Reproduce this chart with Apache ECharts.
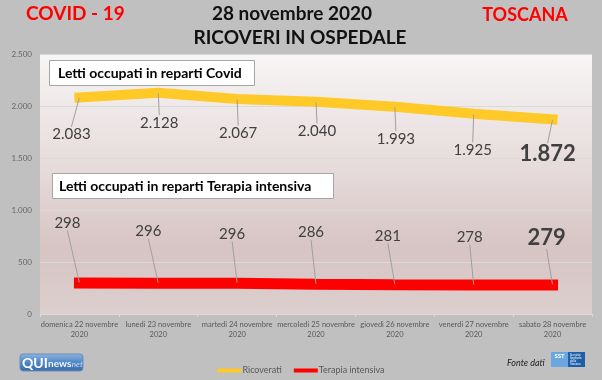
<!DOCTYPE html>
<html>
<head>
<meta charset="utf-8">
<script src="https://cdn.jsdelivr.net/npm/echarts@6/dist/echarts.min.js"></script>
<style>
html,body{margin:0;padding:0;background:#c0c0c0;}
#c{width:602px;height:380px;}
</style>
</head>
<body>
<div id="c"></div>
<script>
const categories = [
  'domenica 22 novembre\n2020',
  'lunedi 23 novembre\n2020',
  'martedi 24 novembre\n2020',
  'mercoledi 25 novembre\n2020',
  'giovedi 26 novembre\n2020',
  'venerdi 27 novembre\n2020',
  'sabato 28 novembre\n2020'
];
const ricoverati = [2083, 2128, 2067, 2040, 1993, 1925, 1872];
const terapiaIntensiva = [298, 296, 296, 286, 281, 278, 279];
const yTicks = [0, 500, 1000, 1500, 2000, 2500];

const fmt = v => String(v).replace(/\B(?=(\d{3})+(?!\d))/g, '.');

// label placement (pixel offsets from the point)
const yellowOffsets = [[-8,37],[1,30],[1,34],[1,29],[1,32],[-1,36],[-5,35]];
const redOffsets = [[-12,-60],[-10,-52],[-5,-49],[-5,-52],[-7,-49],[-4,-48],[-6,-47]];

function buildData(arr) {
  return arr.map((v, i) => {
    const last = i === arr.length - 1;
    return last ? {value: v, label: {fontSize: 22, fontWeight: 'bold'}} : {value: v};
  });
}

const FONT = 'Lato, "Open Sans", sans-serif';
const chart = echarts.init(document.getElementById('c'), null, {renderer: 'canvas'});

const labelBase = {
  show: true,
  position: 'inside',
  formatter: p => fmt(p.value),
  fontFamily: FONT,
  fontSize: 15,
  color: '#404040'
};

chart.setOption({
  backgroundColor: '#c0c0c0',
  animation: false,
  textStyle: {fontFamily: FONT},
  grid: {
    left: 40, right: 10, top: 54, bottom: 66,
    show: true,
    borderWidth: 0,
    backgroundColor: new echarts.graphic.LinearGradient(0, 0, 0, 1, [
      {offset: 0, color: '#f7f5f5'},
      {offset: 0.45, color: '#e6dada'},
      {offset: 0.75, color: '#d7c4c4'},
      {offset: 1, color: '#ddcfcf'}
    ])
  },
  xAxis: {
    type: 'category',
    data: categories,
    boundaryGap: true,
    axisLine: {lineStyle: {color: '#d9d9d9'}},
    axisTick: {show: true, length: 3, interval: 0, lineStyle: {color: '#d9d9d9'}},
    axisLabel: {
      interval: 0, fontSize: 7.5, color: '#595959', lineHeight: 10, margin: 6,
      fontFamily: FONT
    }
  },
  yAxis: {
    type: 'value',
    min: yTicks[0], max: yTicks[yTicks.length - 1], interval: 500,
    axisLine: {show: false},
    axisTick: {show: false},
    splitLine: {lineStyle: {color: '#dadada', width: 1}},
    axisLabel: {
      fontSize: 8, color: '#666666', margin: 8, fontFamily: FONT,
      formatter: v => fmt(v)
    }
  },
  legend: {
    top: 361,
    left: 'center',
    icon: 'rect',
    itemWidth: 24,
    itemHeight: 4,
    itemGap: 12,
    textStyle: {fontSize: 9, color: '#595959', fontFamily: FONT, padding: [0, 0, 0, -4]},
    data: ['Ricoverati', 'Terapia intensiva']
  },
  series: [
    {
      name: 'Ricoverati',
      type: 'line',
      data: buildData(ricoverati),
      color: '#ffc928',
      symbol: 'circle',
      symbolSize: 1,
      showSymbol: true,
      lineStyle: {width: 10, color: '#ffc928', cap: 'square'},
      label: labelBase,
      labelLine: {show: true, length2: 0, lineStyle: {color: '#a0a0a0', width: 1}},
      labelLayout: p => ({dx: yellowOffsets[p.dataIndex][0], dy: yellowOffsets[p.dataIndex][1]}),
      z: 3
    },
    {
      name: 'Terapia intensiva',
      type: 'line',
      data: buildData(terapiaIntensiva),
      color: '#ff0000',
      symbol: 'circle',
      symbolSize: 1,
      showSymbol: true,
      lineStyle: {width: 11, color: '#ff0000', cap: 'square'},
      label: labelBase,
      labelLine: {show: true, length2: 0, lineStyle: {color: '#a0a0a0', width: 1}},
      labelLayout: p => ({dx: redOffsets[p.dataIndex][0], dy: redOffsets[p.dataIndex][1]}),
      z: 3
    }
  ],
  graphic: [
    {type: 'text', left: 26, top: 4, style: {text: 'COVID - 19', fill: '#ff0000', font: 'bold 19px ' + FONT}},
    {type: 'text', x: 292, y: 14, style: {text: '28 novembre 2020', fill: '#111111', font: 'bold 19px ' + FONT, textAlign: 'center', textVerticalAlign: 'middle'}},
    {type: 'text', x: 300, y: 38, style: {text: 'RICOVERI IN OSPEDALE', fill: '#111111', font: 'bold 19px ' + FONT, textAlign: 'center', textVerticalAlign: 'middle'}},
    {type: 'text', x: 525, y: 15, style: {text: 'TOSCANA', fill: '#ff0000', font: 'bold 18px ' + FONT, textAlign: 'center', textVerticalAlign: 'middle'}},
    {type: 'rect', shape: {x: 49.5, y: 60.5, width: 205, height: 25}, style: {fill: '#ffffff', stroke: '#a6a6a6', lineWidth: 1}, z: 10},
    {type: 'text', x: 58, y: 73.5, style: {text: 'Letti occupati in reparti Covid', fill: '#000000', font: 'bold 14px ' + FONT, textVerticalAlign: 'middle'}, z: 11},
    {type: 'rect', shape: {x: 52.5, y: 173.5, width: 281, height: 25}, style: {fill: '#ffffff', stroke: '#a6a6a6', lineWidth: 1}, z: 10},
    {type: 'text', x: 59, y: 186.5, style: {text: 'Letti occupati in reparti Terapia intensiva', fill: '#000000', font: 'bold 14px ' + FONT, textVerticalAlign: 'middle'}, z: 11},
    // QUInews logo
    {type: 'rect', shape: {x: 20, y: 354, width: 63, height: 17, r: 3},
     style: {fill: new echarts.graphic.LinearGradient(0, 0, 0, 1, [{offset: 0, color: '#8fb6e0'}, {offset: 0.5, color: '#4f86c4'}, {offset: 1, color: '#3a6aa8'}]), stroke: '#6b8fb8', lineWidth: 1}, z: 10},
    {type: 'text', x: 22, y: 363, style: {text: 'QUI', fill: '#ffffff', font: 'bold 14px ' + FONT, textVerticalAlign: 'middle'}, z: 11},
    {type: 'text', x: 48, y: 364, style: {text: 'news', fill: '#f0f4fa', font: 'bold 10px ' + FONT, textVerticalAlign: 'middle'}, z: 11},
    {type: 'text', x: 70, y: 364, style: {text: '.net', fill: '#c9dcf2', font: 'italic 8px ' + FONT, textVerticalAlign: 'middle'}, z: 11},
    // Fonte dati
    {type: 'text', x: 507, y: 363, style: {text: 'Fonte dati', fill: '#222222', font: 'italic 9px ' + FONT, textVerticalAlign: 'middle'}},
    // SST logo
    {type: 'rect', shape: {x: 551, y: 352, width: 17, height: 15}, style: {fill: '#6aa7de'}, z: 10},
    {type: 'rect', shape: {x: 568, y: 352, width: 17, height: 15}, style: {fill: '#1f5fa8'}, z: 10},
    {type: 'text', x: 559.5, y: 356, style: {text: 'SST', fill: '#ffffff', font: 'bold 6px ' + FONT, textAlign: 'center', textVerticalAlign: 'middle'}, z: 11},
    {type: 'text', x: 570, y: 359.5, style: {text: 'Servizio\nSanitario\ndella\nToscana', fill: '#ffffff', font: '3px ' + FONT, lineHeight: 3.2, textVerticalAlign: 'middle'}, z: 11}
  ]
});
</script>
</body>
</html>
